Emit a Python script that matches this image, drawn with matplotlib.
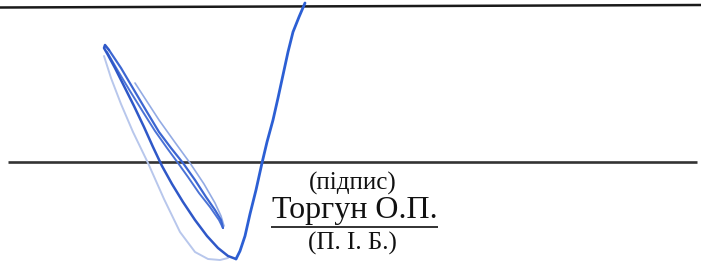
import matplotlib.pyplot as plt
import numpy as np

# signature strokes (x, y in pixels, y downwards)
right_x = [305, 299, 293, 288, 283, 278, 273, 267, 262, 256, 250, 245, 240, 236]
right_y = [3, 17, 32, 52, 75, 98, 120, 142, 163, 190, 214, 236, 251, 259]

outer_x = [236, 228, 218, 207, 195, 183, 172, 162, 153, 144, 134, 124, 115, 108, 104, 105, 109]
outer_y = [259, 256, 248, 236, 220, 202, 184, 166, 147, 127, 106, 86, 68, 55, 48, 45, 50]

pair_a_x = [109, 121, 134, 147, 159, 171, 183, 195, 206, 215, 221, 223]
pair_a_y = [50, 68, 90, 112, 132, 148, 163, 180, 197, 210, 220, 228]
pair_b_x = [223, 219, 210, 199, 188, 178, 167, 155, 143, 130, 118, 107]
pair_b_y = [228, 220, 207, 193, 177, 163, 148, 131, 112, 91, 71, 52]

faint_x = [135, 146, 159, 174, 190, 204, 215, 221, 224]
faint_y = [83, 100, 120, 141, 163, 184, 203, 216, 226]

light_x = [104, 111, 121, 133, 148, 164, 180, 195, 208, 220, 228]
light_y = [56, 78, 104, 132, 163, 199, 232, 252, 259, 260, 258]

# lines and captions
top_line_x = [0, 701]
top_line_y = [7.5, 5]
sign_line_x = [8, 697]
sign_line_y = [162, 162]
under_x = [271, 438]
under_y = [227, 227]

caption_sign = "(підпис)"
name = "Торгун О.П."
caption_name = "(П. І. Б.)"

fig = plt.figure(figsize=(7.01, 2.61), dpi=100)
ax = fig.add_axes([0, 0, 1, 1])
ax.set_xlim(0, 701)
ax.set_ylim(261, 0)
ax.axis('off')

ax.plot(top_line_x, top_line_y, color='#1a1a1a', lw=1.8, solid_capstyle='butt')
ax.plot(sign_line_x, sign_line_y, color='#333333', lw=1.9, solid_capstyle='butt')
ax.plot(under_x, under_y, color='#222222', lw=1.3, solid_capstyle='butt')

serif = ['Liberation Serif', 'DejaVu Serif']
ax.text(353, 190, caption_sign, ha='center', va='baseline', fontsize=18, family=serif, color='#111111')
ax.text(354.5, 218, name, ha='center', va='baseline', fontsize=23, family=serif, color='#111111')
ax.text(352, 250, caption_name, ha='center', va='baseline', fontsize=18, family=serif, color='#111111')

style = dict(solid_joinstyle='round', solid_capstyle='round')
ax.plot(light_x, light_y, color='#b8c7ec', lw=1.4, **style)
ax.plot(faint_x, faint_y, color='#93abe4', lw=1.2, **style)
ax.plot(pair_b_x, pair_b_y, color='#4a72d6', lw=1.4, **style)
ax.plot(pair_a_x, pair_a_y, color='#3c66d2', lw=1.6, **style)
ax.plot(outer_x, outer_y, color='#2f58c8', lw=1.8, **style)
ax.plot(right_x, right_y, color='#2c5fd4', lw=2.0, **style)

fig.savefig('out.png', dpi=100)
